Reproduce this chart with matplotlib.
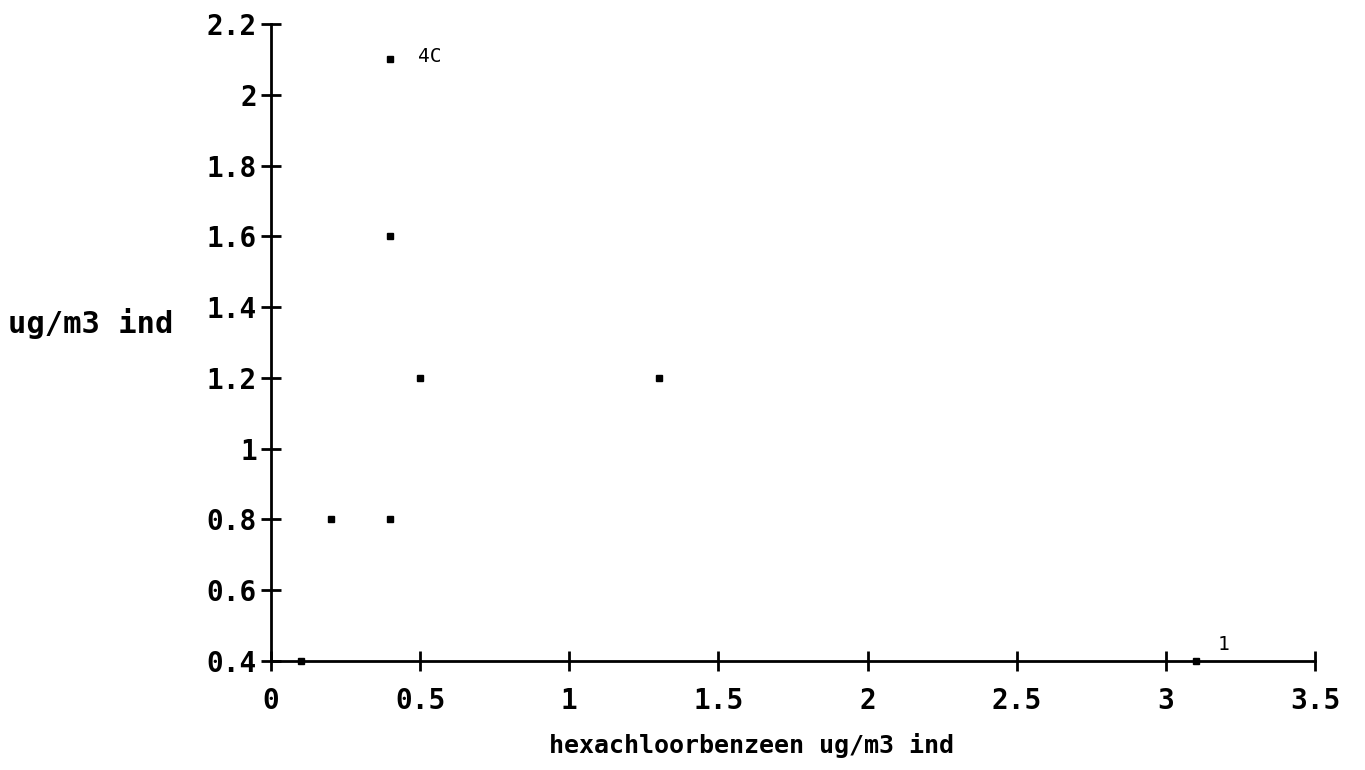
import matplotlib.pyplot as plt

# points
x_vals = [0.1, 0.2, 0.4, 0.4, 0.4, 0.5, 1.3, 3.1]
y_vals = [0.4, 0.8, 0.8, 1.6, 2.1, 1.2, 1.2, 0.4]
point_labels = {4: "4C", 7: "1"}

x_ticks = [0, 0.5, 1, 1.5, 2, 2.5, 3, 3.5]
x_ticklabels = ["0", "0.5", "1", "1.5", "2", "2.5", "3", "3.5"]
y_ticks = [0.4, 0.6, 0.8, 1.0, 1.2, 1.4, 1.6, 1.8, 2.0, 2.2]
y_ticklabels = ["0.4", "0.6", "0.8", "1", "1.2", "1.4", "1.6", "1.8", "2", "2.2"]

MONO = ["DejaVu Sans Mono"]
FS_TICK = 20; FS_XLABEL = 18; FS_YLABEL = 22; FS_ANN = 14

fig = plt.figure(figsize=(13.65, 7.7), dpi=100)
ax = fig.add_axes([0.1985, 0.1416, 0.7649, 0.8272])

ax.plot(x_vals, y_vals, "s", color="black", markersize=4, clip_on=False)
ax.annotate(point_labels[4], (x_vals[4], y_vals[4]), xytext=(20, 2), textcoords="offset points",
            fontsize=FS_ANN, family=MONO, va="center")
ax.annotate(point_labels[7], (x_vals[7], y_vals[7]), xytext=(16, 5), textcoords="offset points",
            fontsize=FS_ANN, family=MONO, va="bottom")

ax.set_xlim(0, 3.5); ax.set_ylim(0.4, 2.2)
ax.set_xticks(x_ticks); ax.set_xticklabels(x_ticklabels)
ax.set_yticks(y_ticks); ax.set_yticklabels(y_ticklabels)
for lab in ax.get_xticklabels() + ax.get_yticklabels():
    lab.set_family(MONO); lab.set_fontweight("bold"); lab.set_fontsize(FS_TICK)

ax.tick_params(direction="inout", length=14, width=2, color="black", pad=3)
ax.tick_params(axis="x", pad=12)
for s in ["top", "right"]:
    ax.spines[s].set_visible(False)
for s in ["left", "bottom"]:
    ax.spines[s].set_linewidth(2)

ax.set_xlabel("hexachloorbenzeen ug/m3 ind", fontsize=FS_XLABEL, family=MONO,
              fontweight="bold", va="center")
ax.xaxis.set_label_coords(0.46, -0.133)
ax.set_ylabel("ug/m3 ind", fontsize=FS_YLABEL, family=MONO, fontweight="bold",
              rotation=0, ha="left", va="center")
ax.yaxis.set_label_coords(-0.252, 0.53)

fig.savefig("out.png", dpi=100)
